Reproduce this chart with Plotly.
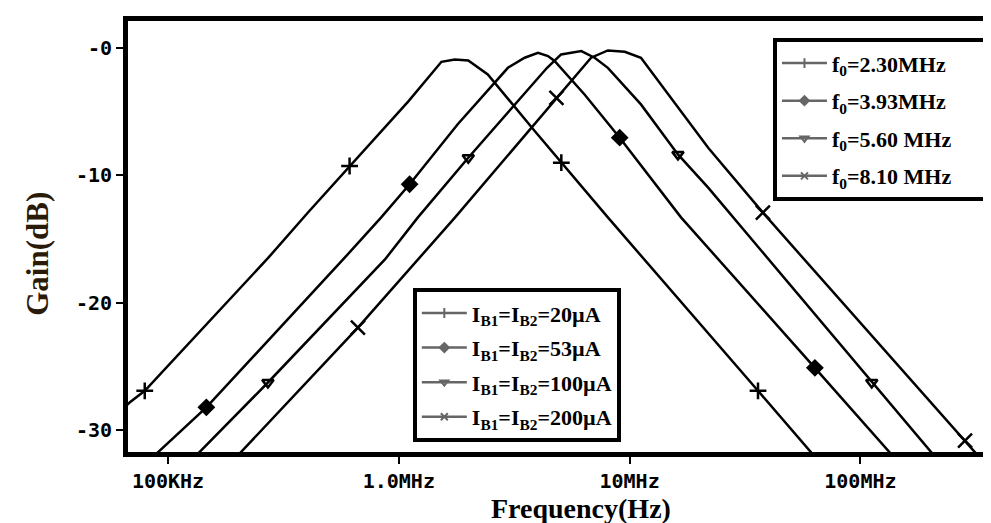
import plotly.graph_objects as go

# curve samples: frequency (Hz) and gain (dB)
f_20 = [63e3, 68.4e3, 79.3e3, 271e3, 405e3, 612e3, 1.10e6, 1.53e6, 1.75e6, 2.0e6,
        2.43e6, 3.88e6, 5.06e6, 8.05e6, 36e6, 63e6]
g_20 = [-28.4, -27.8, -26.9, -16.5, -12.9, -9.27, -4.2, -1.1, -0.92, -0.99,
        -2.09, -6.53, -9.01, -13.3, -26.9, -32.0]

f_53 = [87.1e3, 146.6e3, 583e3, 839e3, 1.114e6, 1.80e6, 2.97e6, 3.51e6, 4.01e6, 4.43e6,
        4.73e6, 6.38e6, 9.06e6, 16.7e6, 63.5e6, 138e6]
g_53 = [-32.0, -28.2, -16.46, -13.3, -10.7, -6.0, -1.57, -0.78, -0.4, -0.65,
        -1.04, -3.66, -7.05, -13.3, -25.1, -32.0]

f_100 = [132e3, 271e3, 871e3, 1.21e6, 2.0e6, 4.39e6, 5.05e6, 6.18e6, 7.08e6, 8.05e6,
         11.2e6, 16.2e6, 21.9e6, 112e6, 209e6]
g_100 = [-32.0, -26.25, -16.6, -13.3, -8.62, -1.57, -0.52, -0.26, -0.8, -1.57,
         -4.44, -8.36, -10.97, -26.25, -32.0]

f_200 = [200e3, 665e3, 1.75e6, 4.82e6, 6.81e6, 8.05e6, 9.53e6, 11.2e6, 21.9e6,
         37.8e6, 284e6, 331e6]
g_200 = [-32.0, -21.94, -13.32, -3.92, -0.78, -0.21, -0.31, -0.78, -7.84,
         -12.93, -30.8, -32.2]

# marker points on each curve
mf_20 = [79.3e3, 612e3, 5.06e6, 36e6]
mg_20 = [-26.9, -9.27, -9.01, -26.9]
mf_53 = [146.6e3, 1.114e6, 9.06e6, 63.5e6]
mg_53 = [-28.2, -10.7, -7.05, -25.1]
mf_100 = [271e3, 2.0e6, 16.2e6, 112e6]
mg_100 = [-26.25, -8.62, -8.36, -26.25]
mf_200 = [665e3, 4.82e6, 37.8e6, 284e6]
mg_200 = [-21.94, -3.92, -12.93, -30.8]

f0_names = ['f<sub>0</sub>=2.30MHz', 'f<sub>0</sub>=3.93MHz',
            'f<sub>0</sub>=5.60 MHz', 'f<sub>0</sub>=8.10 MHz']
ib_names = ['I<sub>B1</sub>=I<sub>B2</sub>=20µA', 'I<sub>B1</sub>=I<sub>B2</sub>=53µA',
            'I<sub>B1</sub>=I<sub>B2</sub>=100µA', 'I<sub>B1</sub>=I<sub>B2</sub>=200µA']

x_ticks = [1e5, 1e6, 1e7, 1e8]
x_text = ['100KHz', '1.0MHz', '10MHz', '100MHz']
y_ticks = [-30, -20, -10, 0]
y_text = ['-30', '-20', '-10', '-0']

curves = [(f_20, g_20, mf_20, mg_20), (f_53, g_53, mf_53, mg_53),
          (f_100, g_100, mf_100, mg_100), (f_200, g_200, mf_200, mg_200)]
symbols = ['cross-thin-open', 'diamond', 'triangle-down-open', 'x-thin-open']
msizes = [12, 11, 10, 14]

fig = go.Figure()

for (fx, gy, mx, my), sym, ms in zip(curves, symbols, msizes):
    fig.add_trace(go.Scatter(x=fx, y=gy, mode='lines', showlegend=False,
                             line=dict(color='black', width=2.5)))
    fig.add_trace(go.Scatter(x=mx, y=my, mode='markers', showlegend=False,
                             marker=dict(symbol=sym, size=ms, color='black',
                                         line=dict(color='black', width=2.5))))

# legend entries (grey line with marker, like the original);
# white filler widens the top box towards the right edge
pad = '<span style="color:white">____</span>'
for i, (sym, name) in enumerate(zip(symbols, f0_names)):
    fig.add_trace(go.Scatter(x=[None], y=[None], mode='lines+markers', name=name + pad,
                             legend='legend', legendgroup='a%d' % i,
                             line=dict(color='#666666', width=2.5),
                             marker=dict(symbol=sym, size=7, color='#666666',
                                         line=dict(color='#666666', width=2))))
for i, (sym, name) in enumerate(zip(symbols, ib_names)):
    fig.add_trace(go.Scatter(x=[None], y=[None], mode='lines+markers', name=name,
                             legend='legend2', legendgroup='b%d' % i,
                             line=dict(color='#666666', width=2.5),
                             marker=dict(symbol=sym, size=7, color='#666666',
                                         line=dict(color='#666666', width=2))))

legend_font = dict(family='Liberation Serif', size=22, color='black', weight='bold')
tick_font = dict(family='DejaVu Sans Mono', size=20, color='black', weight='bold')

fig.update_layout(
    width=991, height=523,
    margin=dict(l=120, r=0, t=13, b=79, autoexpand=False),
    plot_bgcolor='white', paper_bgcolor='white',
    legend=dict(x=0.7405, y=0.96, xanchor='left', yanchor='top',
                bgcolor='white', bordercolor='black', borderwidth=4,
                font=legend_font, tracegroupgap=6, itemwidth=45),
    legend2=dict(x=0.327, y=0.38, xanchor='left', yanchor='top',
                 bgcolor='white', bordercolor='black', borderwidth=4,
                 font=legend_font, tracegroupgap=3, itemwidth=45),
    annotations=[
        dict(text='Frequency(Hz)', x=0.52, y=-0.13, xref='paper', yref='paper',
             xanchor='center', yanchor='middle', showarrow=False,
             font=dict(family='Liberation Serif', size=28, color='black', weight='bold')),
        dict(text='Gain(dB)', x=-0.1033, y=0.46, xref='paper', yref='paper',
             xanchor='center', yanchor='middle', textangle=-90, showarrow=False,
             font=dict(family='Liberation Serif', size=31, color='#2a1a08', weight='bold')),
    ],
)

fig.update_xaxes(type='log', range=[4.8267, 8.6005],
                 tickvals=x_ticks, ticktext=x_text,
                 showgrid=False, zeroline=False,
                 showline=True, linecolor='black', linewidth=5, mirror=True,
                 ticks='outside', ticklen=7, tickwidth=2, tickcolor='black',
                 tickfont=tick_font)

fig.update_yaxes(range=[-31.7, 2.1],
                 tickvals=y_ticks, ticktext=y_text,
                 showgrid=False, zeroline=False,
                 showline=True, linecolor='black', linewidth=5, mirror=False,
                 ticks='outside', ticklen=7, tickwidth=2, tickcolor='black',
                 tickfont=tick_font)

fig.write_html("out.html")
